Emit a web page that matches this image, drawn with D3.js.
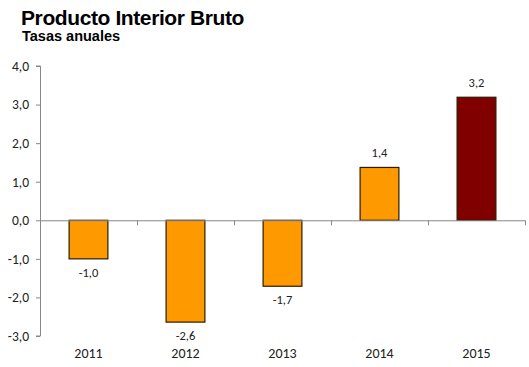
<!DOCTYPE html>
<html>
<head>
<meta charset="utf-8">
<script src="https://cdn.jsdelivr.net/npm/d3@7"></script>
<style>
body { margin: 0; background: #fff; }
</style>
</head>
<body>
<script>
var years = ['2011', '2012', '2013', '2014', '2015'];
var values = [-1.0, -2.64, -1.71, 1.37, 3.19];
var barColors = ['#ff9900', '#ff9900', '#ff9900', '#ff9900', '#800000'];
var yTicks = [-3, -2, -1, 0, 1, 2, 3, 4];

var width = 529, height = 367;
var m = {top: 66, right: 4, bottom: 31, left: 40};

var svg = d3.select('body').append('svg')
   .attr('width', width)
   .attr('height', height);

svg.append('text')
   .attr('x', 21).attr('y', 25)
   .attr('font-family', 'Liberation Sans, Arial, sans-serif')
   .attr('font-weight', 'bold')
   .attr('font-size', 21)
   .attr('letter-spacing', -0.4)
   .text('Producto Interior Bruto');
svg.append('text')
   .attr('x', 22).attr('y', 41)
   .attr('font-family', 'Liberation Sans, Arial, sans-serif')
   .attr('font-weight', 'bold')
   .attr('font-size', 14.5)
   .text('Tasas anuales');

var x = d3.scaleBand()
   .domain(years)
   .range([m.left, width - m.right])
   .paddingInner(0.6)
   .paddingOuter(0.3);

var y = d3.scaleLinear()
   .domain([-3, 4])
   .range([height - m.bottom, m.top]);

var fmt = function(v) { return v.toFixed(1).replace('.', ','); };
var font = 'Carlito, Liberation Sans, Arial, sans-serif';

// y axis
var ya = svg.append('g')
   .attr('transform', 'translate(' + m.left + ',0)')
   .call(d3.axisLeft(y).tickValues(yTicks).tickSize(4).tickPadding(7).tickFormat(fmt));
ya.select('.domain').attr('stroke', '#888').attr('d', 'M-4,' + y(-3) + 'H0.5V' + y(4) + 'H-4');
ya.selectAll('.tick line').attr('stroke', '#888');
ya.selectAll('.tick text').attr('font-family', font).attr('font-size', 13.5).attr('fill', '#222');

// bars
svg.selectAll('rect.bar')
   .data(values)
   .enter().append('rect')
   .attr('class', 'bar')
   .attr('x', function(d, i) { return x(years[i]); })
   .attr('width', x.bandwidth())
   .attr('y', function(d) { return y(Math.max(0, d)); })
   .attr('height', function(d) { return Math.abs(y(d) - y(0)); })
   .attr('fill', function(d, i) { return barColors[i]; })
   .attr('stroke', '#2b1a00')
   .attr('stroke-width', 1.2);

// zero line with category ticks
svg.append('line')
   .attr('x1', m.left).attr('x2', width - m.right)
   .attr('y1', y(0) + 0.5).attr('y2', y(0) + 0.5)
   .attr('stroke', '#888');
svg.selectAll('line.ctick')
   .data(d3.range(years.length + 1))
   .enter().append('line')
   .attr('class', 'ctick')
   .attr('x1', function(i) { return m.left + 0.5 + i * (width - m.right - m.left) / years.length; })
   .attr('x2', function(i) { return m.left + 0.5 + i * (width - m.right - m.left) / years.length; })
   .attr('y1', y(0)).attr('y2', y(0) + 5)
   .attr('stroke', '#888');

// value labels
svg.selectAll('text.val')
   .data(values)
   .enter().append('text')
   .attr('class', 'val')
   .attr('x', function(d, i) { return x(years[i]) + x.bandwidth() / 2; })
   .attr('y', function(d) { return d < 0 ? y(d) + 18 : y(d) - 10; })
   .attr('text-anchor', 'middle')
   .attr('font-family', font)
   .attr('font-size', 12.5)
   .attr('fill', '#222')
   .text(fmt);

// category labels
svg.selectAll('text.cat')
   .data(years)
   .enter().append('text')
   .attr('class', 'cat')
   .attr('x', function(d) { return x(d) + x.bandwidth() / 2; })
   .attr('y', height - 9)
   .attr('text-anchor', 'middle')
   .attr('font-family', font)
   .attr('font-size', 14)
   .attr('fill', '#222')
   .text(function(d) { return d; });
</script>
</body>
</html>
